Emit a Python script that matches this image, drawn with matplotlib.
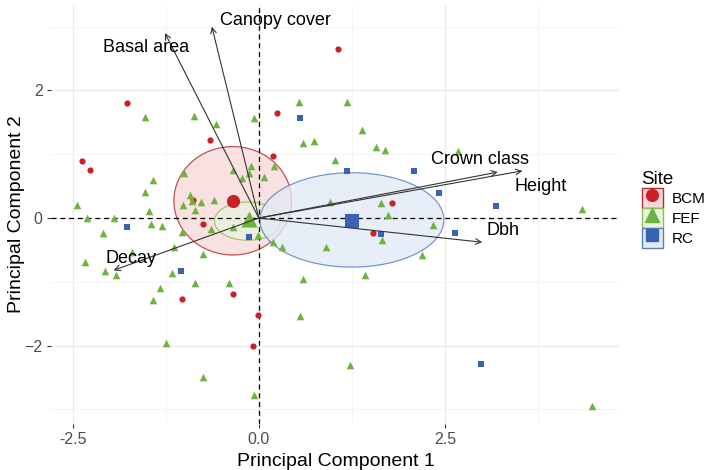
import numpy as np
import matplotlib
matplotlib.use("Agg")
import matplotlib.pyplot as plt
from matplotlib.patches import Ellipse, Patch
from matplotlib.lines import Line2D
from matplotlib.legend_handler import HandlerTuple

plt.rcParams['font.family'] = ['Liberation Sans', 'DejaVu Sans']

# site scores (PC1, PC2)
bcm_x = [-1.77, -0.66, -2.38, -2.27, -0.89, 1.07, 0.24, 0.19, 1.79, -0.75, 1.53, -1.03, -0.35, -0.01, -0.08]
bcm_y = [1.80, 1.22, 0.90, 0.75, 0.28, 2.65, 1.65, 0.98, 0.24, -0.10, -0.24, -1.27, -1.19, -1.52, -2.01]

fef_x = [-1.53, -0.87, -0.58, -0.07, 0.54, 1.18, 1.38, 0.59, 0.74, 1.57, 1.70, 2.67, 1.02, 0.21,
         -0.34, -0.23, -0.11, -0.13, 0.07, -1.00, -1.42, -1.53, -1.48, -2.44, -2.31, -1.95, -0.93,
         -0.90, -0.78, -0.86, -1.02, -0.60, 0.95, 1.64, 1.74, 4.34, -1.45, -1.30, -2.09, -1.70,
         -1.03, -0.64, -0.35, -1.14, -0.75, -2.34, -2.07, -1.92, -1.17, -0.86, -0.40, -1.32, -1.42,
         -1.25, -0.75, -0.07, -0.01, 0.31, 0.90, 0.59, 1.42, 0.56, 1.22, 1.65, 2.34, 2.19, 4.48, 0.19]
fef_y = [1.58, 1.60, 1.48, 1.57, 1.82, 1.82, 1.38, 1.18, 1.21, 1.12, 1.07, 1.05, 0.91, 0.82,
         0.75, 0.63, 0.82, 0.70, 0.64, 0.70, 0.60, 0.41, 0.11, 0.21, 0.00, 0.00, 0.36,
         0.27, 0.25, 0.13, 0.20, 0.28, 0.25, 0.24, 0.05, 0.14, -0.10, -0.12, -0.24, -0.53,
         -0.22, -0.18, -0.14, -0.45, -0.56, -0.69, -0.83, -0.90, -0.86, -1.02, -1.02, -1.10, -1.29,
         -1.96, -2.50, -2.78, -0.27, -0.45, -0.46, -0.96, -0.90, -1.54, -2.31, -0.35, -0.11, -0.58, -2.94, -0.37]

rc_x = [0.55, 1.18, 2.08, 2.42, 3.19, 2.64, 1.64, -1.77, -0.13, -1.05, 2.99]
rc_y = [1.57, 0.74, 0.74, 0.39, 0.19, -0.24, -0.25, -0.14, -0.29, -0.83, -2.29]

sites = ['BCM', 'FEF', 'RC']
centroid_x = [-0.35, -0.13, 1.25]
centroid_y = [0.27, -0.01, -0.04]
# ellipse centre, width, height
ell_cx = [-0.35, -0.15, 1.25]
ell_cy = [0.27, -0.05, -0.03]
ell_w = [1.58, 0.89, 2.47]
ell_h = [1.70, 0.60, 1.48]

# variable loadings
var_names = ['Basal area', 'Canopy cover', 'Crown class', 'Height', 'Dbh', 'Decay']
var_x = [-1.26, -0.63, 3.21, 3.54, 3.00, -1.95]
var_y = [2.90, 3.00, 0.72, 0.74, -0.38, -0.82]
lab_x = [-1.52, 0.22, 2.97, 3.78, 3.28, -1.72]
lab_y = [2.67, 3.10, 0.91, 0.49, -0.19, -0.63]

cols = ['#CC1F26', '#6DB33F', '#3A62B4']
edge = ['#B22A30', '#8CC152', '#5A7DBE']
fills = ['#F8D9DA', '#E9F3DF', '#E3EAF5']
marks = ['o', '^', 's']

fig = plt.figure(figsize=(7.07, 4.70), dpi=100)
ax = fig.add_axes([51/707, 1-424/470, (620-51)/707, (424-5)/470])

ax.set_xlim(-2.79, 4.85)
ax.set_ylim(-3.23, 3.34)
ax.set_xticks([-2.5, 0, 2.5])
ax.set_xticklabels(['-2.5', '0.0', '2.5'])
ax.set_yticks([-2, 0, 2])
ax.set_xticks([-1.25, 1.25, 3.75], minor=True)
ax.set_yticks([-3, -1, 1, 3], minor=True)
ax.grid(True, which='major', color='#EBEBEB', lw=1.0)
ax.grid(True, which='minor', color='#F2F2F2', lw=0.6)
ax.set_axisbelow(True)
for s in ax.spines.values():
    s.set_visible(False)
ax.tick_params(which='major', length=3, width=0.8, color='#333333', labelcolor='#4D4D4D', labelsize=11.5, pad=3)
ax.tick_params(which='minor', length=0)

for i in range(3):
    ax.add_patch(Ellipse((ell_cx[i], ell_cy[i]), ell_w[i], ell_h[i], facecolor=fills[i],
                         edgecolor=edge[i], lw=0.9, alpha=0.8, zorder=2))

ax.axhline(0, color='black', ls=(0, (4, 3)), lw=0.9, zorder=3)
ax.axvline(0, color='black', ls=(0, (4, 3)), lw=0.9, zorder=3)

pts = [(bcm_x, bcm_y), (fef_x, fef_y), (rc_x, rc_y)]
sizes = [20, 30, 22]
for i, (px, py) in enumerate(pts):
    ax.scatter(px, py, marker=marks[i], s=sizes[i], color=cols[i], lw=0, zorder=4)
    ax.scatter(centroid_x[i], centroid_y[i], marker=marks[i], s=sizes[i]*4.5, color=cols[i], lw=0, zorder=5)

for i in range(len(var_names)):
    ax.annotate('', xy=(var_x[i], var_y[i]), xytext=(0, 0),
                arrowprops=dict(arrowstyle='->', color='#333333', lw=0.8, shrinkA=0, shrinkB=0,
                                mutation_scale=10), zorder=6)
    ax.text(lab_x[i], lab_y[i], var_names[i], fontsize=13, ha='center', va='center', zorder=7)

ax.set_xlabel('Principal Component 1', fontsize=14, labelpad=4)
ax.set_ylabel('Principal Component 2', fontsize=14, labelpad=0)

handles = []
for i in range(3):
    box = Patch(facecolor=fills[i], edgecolor=edge[i], lw=1.0)
    mk = Line2D([], [], marker=marks[i], color=cols[i], ls='', markersize=9.5 if i == 1 else 8.5)
    handles.append((box, mk))
leg = fig.legend(handles, sites, handler_map={tuple: HandlerTuple(ndivide=1, pad=0)},
                 loc='upper left', bbox_to_anchor=(637/707, 1-166/470), frameon=False,
                 title='Site', fontsize=11, title_fontsize=13.5, handlelength=1.4, handleheight=1.65,
                 labelspacing=0.0, handletextpad=0.55, borderaxespad=0, borderpad=0.3)
leg._legend_box.align = 'left'

fig.savefig('out.png', dpi=100)
